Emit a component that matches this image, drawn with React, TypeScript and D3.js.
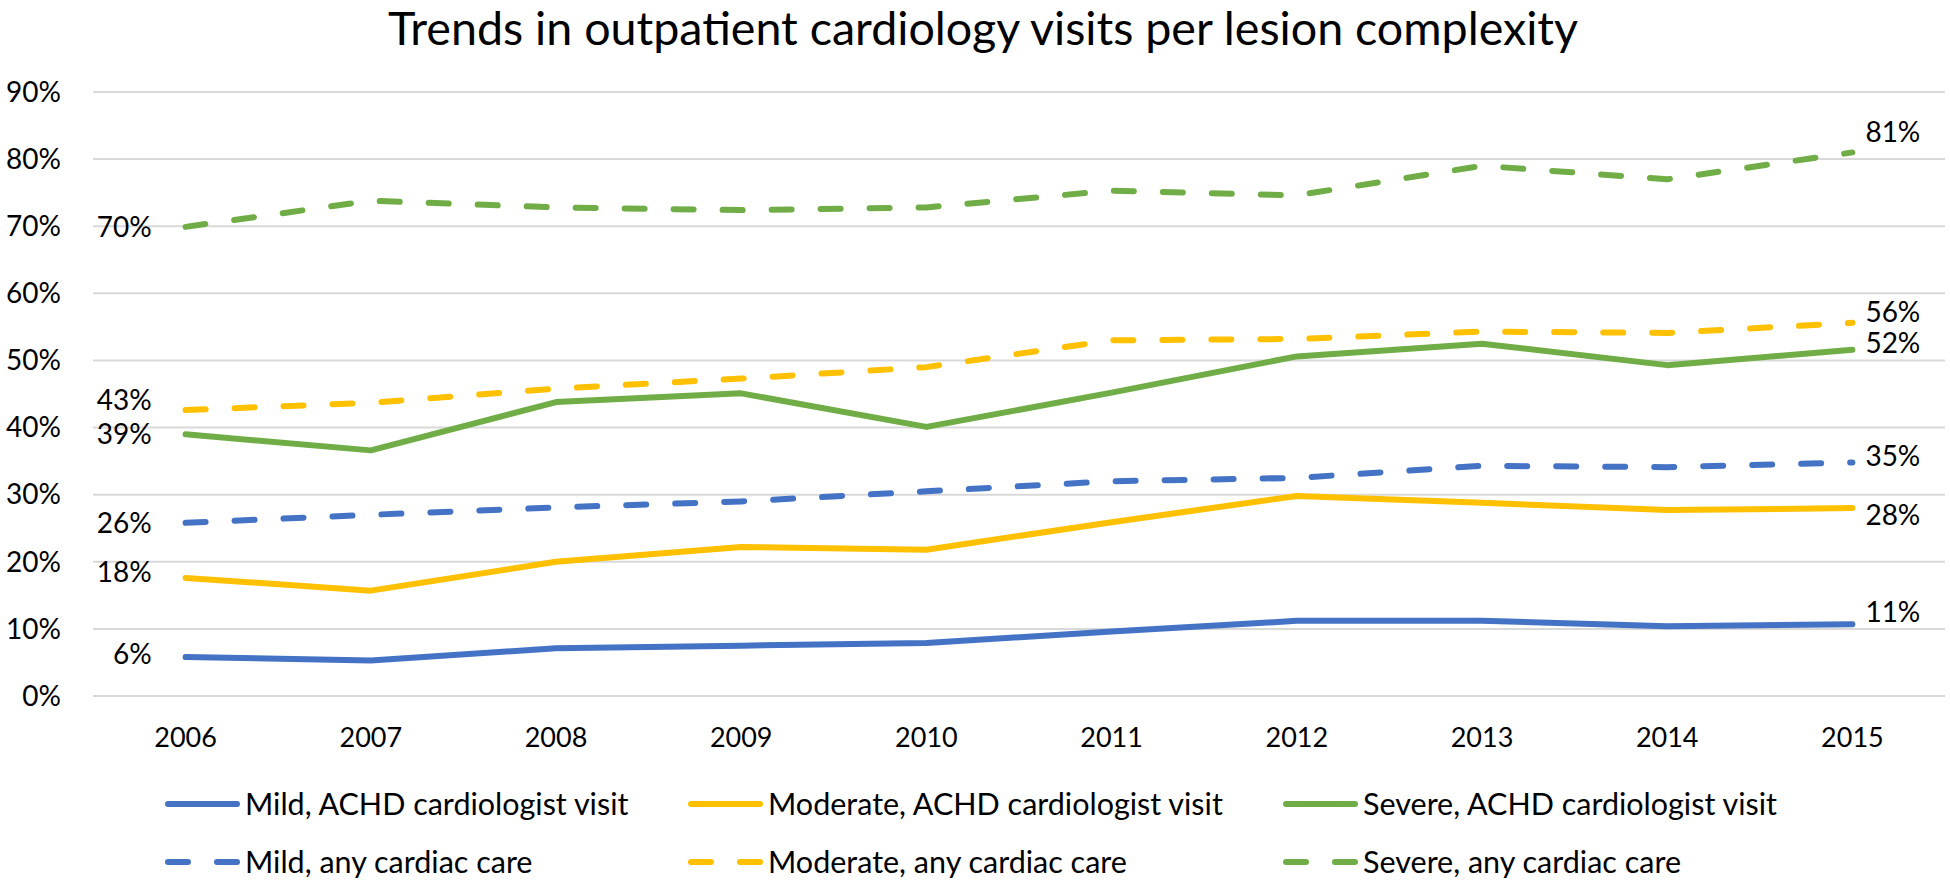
import React, { useEffect, useRef } from 'react';
import * as d3 from 'd3';

// Category axis
const years = ['2006', '2007', '2008', '2009', '2010', '2011', '2012', '2013', '2014', '2015'];

// Percent of patients
const mildAchd = [5.8, 5.3, 7.1, 7.5, 7.9, 9.6, 11.2, 11.2, 10.4, 10.7];
const moderateAchd = [17.6, 15.7, 20.0, 22.2, 21.8, 25.9, 29.8, 28.8, 27.7, 28.0];
const severeAchd = [39.0, 36.6, 43.8, 45.1, 40.1, 45.2, 50.6, 52.5, 49.3, 51.6];
const mildAny = [25.8, 27.0, 28.1, 29.0, 30.5, 32.0, 32.5, 34.3, 34.1, 34.8];
const moderateAny = [42.6, 43.7, 45.8, 47.3, 49.0, 53.0, 53.2, 54.3, 54.1, 55.6];
const severeAny = [69.9, 73.8, 72.8, 72.4, 72.8, 75.3, 74.6, 79.0, 77.0, 81.0];

const yTicks = [0, 10, 20, 30, 40, 50, 60, 70, 80, 90];

const seriesNames = [
  'Mild, ACHD cardiologist visit',
  'Moderate, ACHD cardiologist visit',
  'Severe, ACHD cardiologist visit',
  'Mild, any cardiac care',
  'Moderate, any cardiac care',
  'Severe, any cardiac care',
];

const title = 'Trends in outpatient cardiology visits per lesion complexity';

interface Series {
  name: string;
  values: number[];
  color: string;
  dashed: boolean;
  // vertical nudges for the first/last data labels (px)
  dyStart: number;
  dyEnd: number;
}

const BLUE = '#4472c4';
const GOLD = '#ffc000';
const GREEN = '#70ad47';
const FONT = 'Lato, "Open Sans", sans-serif';

function App() {
  const ref = useRef<SVGSVGElement | null>(null);

  useEffect(() => {
    const svg = d3.select(ref.current);
    svg.selectAll('*').remove();

    const series: Series[] = [
      { name: seriesNames[0], values: mildAchd, color: BLUE, dashed: false, dyStart: -3, dyEnd: -12 },
      { name: seriesNames[1], values: moderateAchd, color: GOLD, dashed: false, dyStart: -6, dyEnd: 7 },
      { name: seriesNames[2], values: severeAchd, color: GREEN, dashed: false, dyStart: 0, dyEnd: -7 },
      { name: seriesNames[3], values: mildAny, color: BLUE, dashed: true, dyStart: 0, dyEnd: -6 },
      { name: seriesNames[4], values: moderateAny, color: GOLD, dashed: true, dyStart: -10, dyEnd: -11 },
      { name: seriesNames[5], values: severeAny, color: GREEN, dashed: true, dyStart: 0, dyEnd: -20 },
    ];

    const plot = { left: 93, right: 1945, top: 92, bottom: 696 };

    const x = d3.scalePoint<string>()
      .domain(years)
      .range([plot.left, plot.right])
      .padding(0.5);

    const y = d3.scaleLinear()
      .domain([0, 90])
      .range([plot.bottom, plot.top]);

    const fmt = (v: number) => `${Math.round(v)}%`;

    // Title
    svg.append('text')
      .attr('x', 388)
      .attr('y', 45)
      .attr('font-family', FONT)
      .attr('font-size', 46)
      .attr('fill', '#000')
      .attr('textLength', 1190)
      .attr('lengthAdjust', 'spacingAndGlyphs')
      .text(title);

    // Gridlines + y labels
    const grid = svg.append('g');
    grid.selectAll('line')
      .data(yTicks)
      .enter().append('line')
      .attr('x1', plot.left)
      .attr('x2', plot.right)
      .attr('y1', d => y(d))
      .attr('y2', d => y(d))
      .attr('stroke', '#d9d9d9')
      .attr('stroke-width', 2);

    grid.selectAll('text')
      .data(yTicks)
      .enter().append('text')
      .attr('x', 61)
      .attr('y', d => y(d))
      .attr('dy', '0.35em')
      .attr('text-anchor', 'end')
      .attr('font-family', FONT)
      .attr('font-size', 28)
      .attr('fill', '#000')
      .text(d => `${d}%`);

    // X labels
    svg.append('g')
      .selectAll('text')
      .data(years)
      .enter().append('text')
      .attr('x', d => x(d) as number)
      .attr('y', 747)
      .attr('text-anchor', 'middle')
      .attr('font-family', FONT)
      .attr('font-size', 27)
      .attr('fill', '#000')
      .text(d => d);

    // Lines
    const line = d3.line<number>()
      .x((_, i) => x(years[i]) as number)
      .y(d => y(d));

    svg.append('g')
      .selectAll('path')
      .data(series)
      .enter().append('path')
      .attr('d', d => line(d.values))
      .attr('fill', 'none')
      .attr('stroke', d => d.color)
      .attr('stroke-width', 6)
      .attr('stroke-linecap', 'round')
      .attr('stroke-linejoin', 'round')
      .attr('stroke-dasharray', d => (d.dashed ? '20 29' : null));

    // Data labels at first and last year
    const labels = svg.append('g')
      .attr('font-family', FONT)
      .attr('font-size', 28)
      .attr('fill', '#000');

    series.forEach(s => {
      const first = s.values[0];
      const last = s.values[s.values.length - 1];
      labels.append('text')
        .attr('x', (x(years[0]) as number) - 34)
        .attr('y', y(first) + s.dyStart)
        .attr('dy', '0.35em')
        .attr('text-anchor', 'end')
        .text(fmt(first));
      labels.append('text')
        .attr('x', (x(years[years.length - 1]) as number) + 13)
        .attr('y', y(last) + s.dyEnd)
        .attr('dy', '0.35em')
        .attr('text-anchor', 'start')
        .text(fmt(last));
    });

    // Legend: 3 columns x 2 rows
    const colX = [165, 688, 1283];
    const rowY = [804, 862];
    const legend = svg.append('g');
    series.forEach((s, i) => {
      const gx = colX[i % 3];
      const gy = rowY[Math.floor(i / 3)];
      legend.append('line')
        .attr('x1', gx + 3)
        .attr('x2', gx + 72)
        .attr('y1', gy)
        .attr('y2', gy)
        .attr('stroke', s.color)
        .attr('stroke-width', 6)
        .attr('stroke-linecap', 'round')
        .attr('stroke-dasharray', s.dashed ? '20 29' : null);
      legend.append('text')
        .attr('x', gx + 80)
        .attr('y', gy)
        .attr('dy', '0.35em')
        .attr('font-family', FONT)
        .attr('font-size', 30.5)
        .attr('fill', '#000')
        .text(s.name);
    });
  }, []);

  return (
    <svg
      ref={ref}
      width={1950}
      height={883}
      style={{ position: 'absolute', left: 0, top: 0, background: '#fff' }}
    />
  );
}

export default App;
